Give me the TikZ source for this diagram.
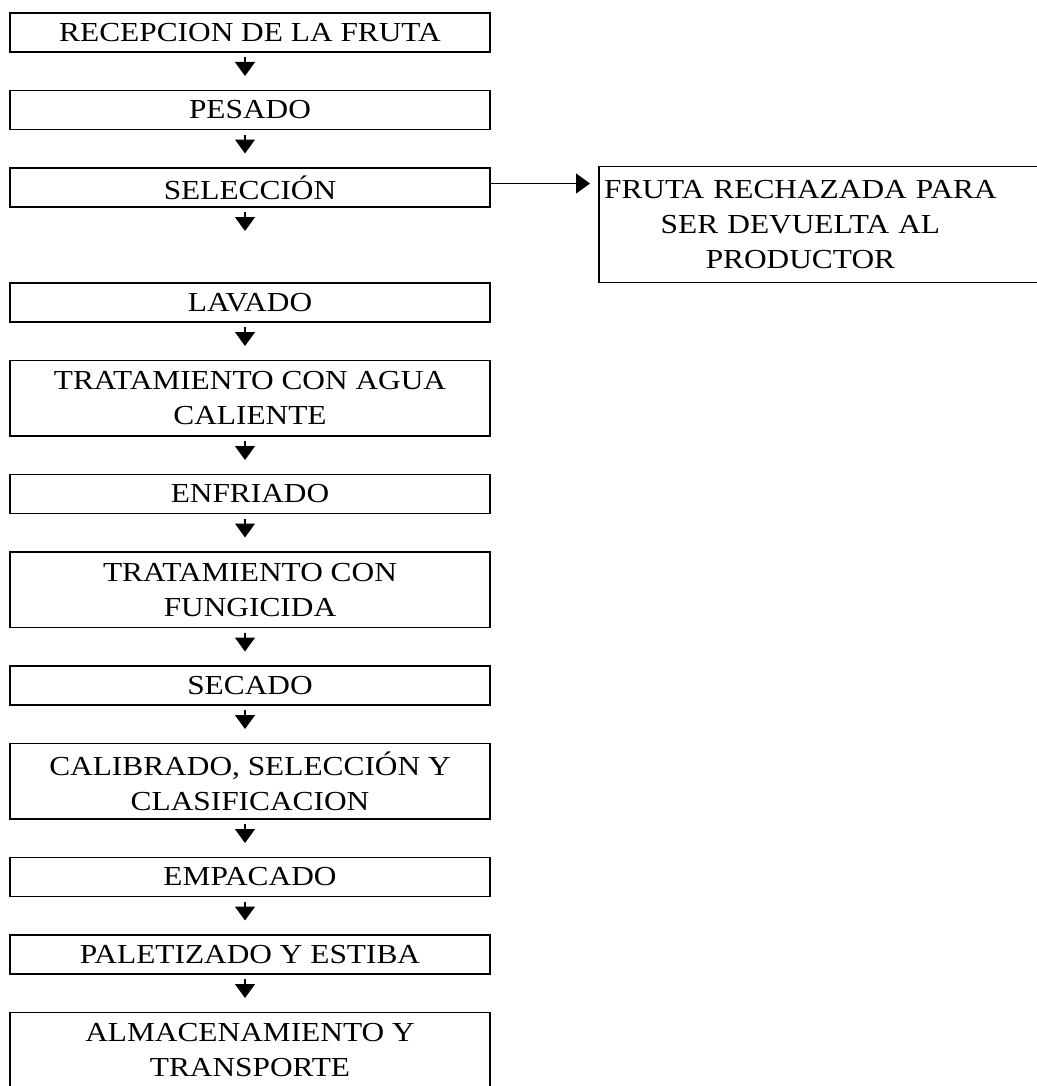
\documentclass[tikz,border=0pt]{standalone}
\usepackage{fontspec}
\setmainfont{Liberation Serif}[FakeStretch=1.14]
\usetikzlibrary{arrows.meta,positioning}

\begin{document}
\begin{tikzpicture}[
    x=0.5pt, y=-0.5pt,
    >={Triangle[width=10pt,length=7pt]},
    node distance=19.25pt,
    every node/.style={font=\fontsize{13.75pt}{17.5pt}\selectfont},
    proceso/.style={draw, line width=0.6pt, outer sep=0pt, minimum width=240pt, minimum height=19.5pt, inner sep=2pt, align=center},
    doble/.style={proceso, minimum height=37.75pt},
    flecha/.style={->, line width=0.6pt, shorten <=2.5pt, shorten >=7.25pt}
  ]
    \useasboundingbox (0,0) rectangle (1037,1086);

    % etapas del proceso
    \node[proceso] (rec) at (250,32.5) {RECEPCION DE LA FRUTA};
    \node[proceso, below=of rec] (pes) {PESADO};
    \node[proceso, below=of pes] (sel) {SELECCIÓN};
    \node[proceso, below=38pt of sel] (lav) {LAVADO};
    \node[doble, below=of lav] (agua) {TRATAMIENTO CON AGUA\\CALIENTE};
    \node[proceso, below=of agua] (enf) {ENFRIADO};
    \node[doble, below=of enf] (fung) {TRATAMIENTO CON\\FUNGICIDA};
    \node[proceso, below=of fung] (sec) {SECADO};
    \node[doble, below=of sec] (cal) {CALIBRADO, SELECCIÓN Y\\CLASIFICACION};
    \node[proceso, below=of cal] (emp) {EMPACADO};
    \node[proceso, below=of emp] (pal) {PALETIZADO Y ESTIBA};
    \node[doble, below=of pal] (alm) {ALMACENAMIENTO Y\\TRANSPORTE};

    % fruta rechazada (caja abierta a la derecha)
    \node[anchor=west, text width=201pt, inner xsep=0pt, inner ysep=2pt, minimum height=57.5pt, align=center] (rech) at (599,224.5) {FRUTA RECHAZADA PARA\\SER DEVUELTA AL\\PRODUCTOR};
    \draw[line width=0.6pt] ([xshift=40pt]rech.north east) -- (rech.north west) -- (rech.south west) -- ([xshift=40pt]rech.south east);

    % flechas
    \foreach \a/\b in {rec/pes, pes/sel, lav/agua, agua/enf, enf/fung, fung/sec, sec/cal, cal/emp, emp/pal, pal/alm}
      \draw[flecha] ([xshift=-2.5pt]\a.south) -- ([xshift=-2.5pt]\b.north);
    \draw[flecha, shorten >=26pt] ([xshift=-2.5pt]sel.south) -- ([xshift=-2.5pt]lav.north);
    \draw[->, line width=0.6pt, shorten >=4.5pt] ([yshift=2pt]sel.east) -- ([yshift=2pt]sel.east -| rech.west);

  \end{tikzpicture}
\end{document}
